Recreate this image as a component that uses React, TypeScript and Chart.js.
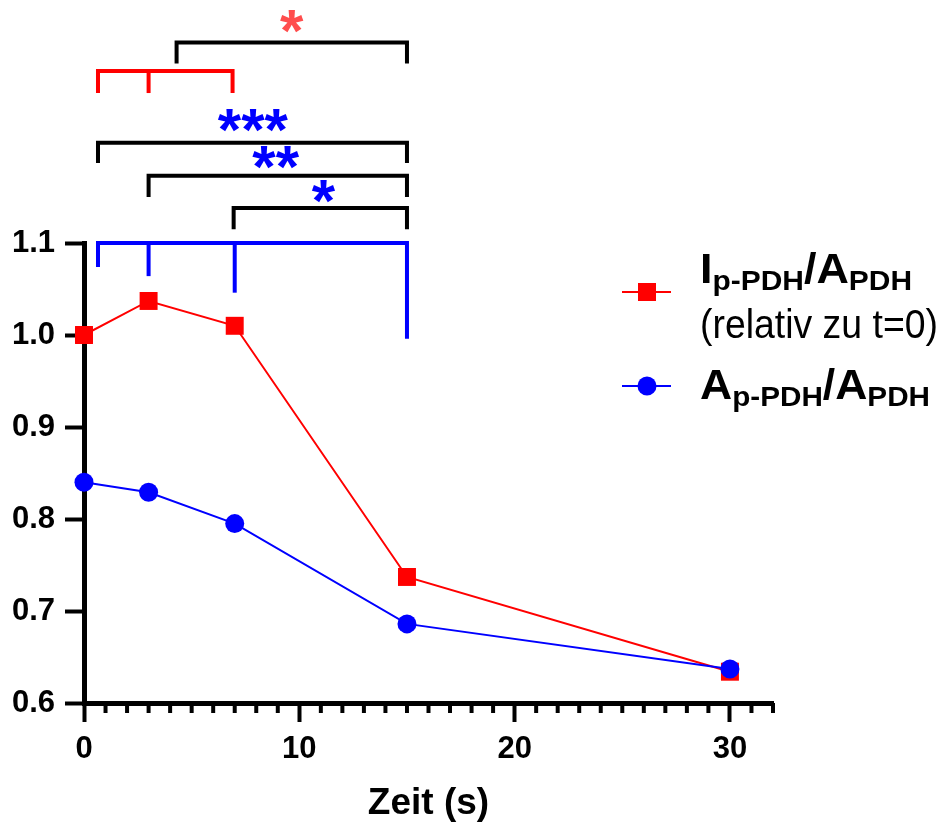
import React, { useEffect, useRef } from 'react';
import { Chart, registerables } from 'chart.js';

Chart.register(...registerables);

const FONT = "'Liberation Sans', Arial, Helvetica, sans-serif";

// data
const timePoints = [0, 3, 7, 15, 30];
const ratioIp = [1.0, 1.037, 1.010, 0.737, 0.634];
const ratioAp = [0.840, 0.829, 0.795, 0.686, 0.637];

// axes
const xMin = 0;
const xMax = 32;
const xMajorStep = 10;
const xMinorStep = 1;
const yMin = 0.6;
const yMax = 1.1;
const yStep = 0.1;

// significance brackets (data coordinates)
const bracketColors = ['#000000', '#ff0000', '#000000', '#000000', '#000000', '#0000ff'];
const bracketTops = [1.318, 1.287, 1.209, 1.173, 1.138, 1.1];
const bracketXs = [[4.3, 15], [0.65, 3, 6.9], [0.65, 15], [3, 15], [6.95, 15], [0.65, 3, 7, 15]];
const bracketDrops = [
  [1.295, 1.295],
  [1.263, 1.263, 1.263],
  [1.187, 1.187],
  [1.150, 1.150],
  [1.115, 1.115],
  [1.074, 1.064, 1.046, 0.996],
];

// significance stars
const starTexts = ['*', '***', '**', '*'];
const starColors = ['#ff4d4d', '#0000ff', '#0000ff', '#0000ff'];
const starX = [9.64, 7.84, 8.9, 11.12];
const starY = [1.341, 1.233, 1.1925, 1.1555];

// legend
const seriesColors = ['#ff0000', '#0000ff'];
const seriesLabels = ['Ip-PDH/APDH (relativ zu t=0)', 'Ap-PDH/APDH'];

const overlayPlugin = {
  id: 'overlay',
  afterDraw(chart: any) {
    const { ctx } = chart;
    const x = chart.scales.x;
    const y = chart.scales.y;
    ctx.save();

    // minor ticks on x axis
    const yb = y.getPixelForValue(yMin);
    ctx.strokeStyle = '#000';
    ctx.lineWidth = 4;
    ctx.lineCap = 'butt';
    for (let v = xMin + xMinorStep; v <= xMax; v += xMinorStep) {
      if (v % xMajorStep === 0) continue;
      const px = x.getPixelForValue(v);
      ctx.beginPath();
      ctx.moveTo(px, yb);
      ctx.lineTo(px, yb + 10);
      ctx.stroke();
    }

    // brackets
    ctx.lineWidth = 4;
    ctx.lineJoin = 'miter';
    bracketTops.forEach((top, i) => {
      const xs = bracketXs[i];
      const drops = bracketDrops[i];
      const ty = y.getPixelForValue(top);
      ctx.strokeStyle = bracketColors[i];
      ctx.beginPath();
      const x0 = x.getPixelForValue(xs[0]);
      const xn = x.getPixelForValue(xs[xs.length - 1]);
      ctx.moveTo(x0, y.getPixelForValue(drops[0]));
      ctx.lineTo(x0, ty);
      ctx.lineTo(xn, ty);
      ctx.lineTo(xn, y.getPixelForValue(drops[drops.length - 1]));
      ctx.stroke();
      for (let k = 1; k < xs.length - 1; k++) {
        const px = x.getPixelForValue(xs[k]);
        ctx.beginPath();
        ctx.moveTo(px, ty);
        ctx.lineTo(px, y.getPixelForValue(drops[k]));
        ctx.stroke();
      }
    });

    // stars
    ctx.font = `bold 60px ${FONT}`;
    ctx.textAlign = 'center';
    ctx.textBaseline = 'alphabetic';
    starTexts.forEach((t, i) => {
      const m = ctx.measureText(t);
      const cy = y.getPixelForValue(starY[i]);
      const by = cy + (m.actualBoundingBoxAscent - m.actualBoundingBoxDescent) / 2;
      ctx.fillStyle = starColors[i];
      ctx.fillText(t, x.getPixelForValue(starX[i]), by);
    });

    // legend
    const drawComposite = (parts: any[], x0: number, base: number, target: number) => {
      let total = 0;
      parts.forEach((p) => {
        ctx.font = `${p.w} ${p.s}px ${FONT}`;
        p.width = ctx.measureText(p.t).width;
        total += p.width;
      });
      const k = target / total;
      ctx.save();
      ctx.translate(x0, base);
      ctx.scale(k, 1);
      ctx.textAlign = 'left';
      ctx.textBaseline = 'alphabetic';
      ctx.fillStyle = '#000';
      let cx = 0;
      parts.forEach((p) => {
        ctx.font = `${p.w} ${p.s}px ${FONT}`;
        ctx.fillText(p.t, cx, p.dy || 0);
        cx += p.width;
      });
      ctx.restore();
    };

    const markerX0 = 622;
    const markerX1 = 671;
    const markerC = 647;
    const rowY = [292, 386];
    // red marker
    ctx.lineWidth = 2;
    ctx.strokeStyle = seriesColors[0];
    ctx.beginPath();
    ctx.moveTo(markerX0, rowY[0]);
    ctx.lineTo(markerX1, rowY[0]);
    ctx.stroke();
    ctx.fillStyle = seriesColors[0];
    ctx.fillRect(markerC - 9, rowY[0] - 9, 18, 18);
    // blue marker
    ctx.strokeStyle = seriesColors[1];
    ctx.beginPath();
    ctx.moveTo(markerX0, rowY[1]);
    ctx.lineTo(markerX1, rowY[1]);
    ctx.stroke();
    ctx.fillStyle = seriesColors[1];
    ctx.beginPath();
    ctx.arc(markerC, rowY[1], 9.5, 0, Math.PI * 2);
    ctx.fill();

    drawComposite(
      [
        { t: 'I', s: 42, w: 'bold' },
        { t: 'p-PDH', s: 28, w: 'bold', dy: 7 },
        { t: '/', s: 42, w: 'bold' },
        { t: 'A', s: 42, w: 'bold' },
        { t: 'PDH', s: 28, w: 'bold', dy: 7 },
      ],
      700,
      283,
      212
    );
    drawComposite([{ t: '(relativ zu t=0)', s: 40, w: 'normal' }], 700, 338, 238);
    drawComposite(
      [
        { t: 'A', s: 42, w: 'bold' },
        { t: 'p-PDH', s: 28, w: 'bold', dy: 7 },
        { t: '/', s: 42, w: 'bold' },
        { t: 'A', s: 42, w: 'bold' },
        { t: 'PDH', s: 28, w: 'bold', dy: 7 },
      ],
      700,
      399,
      230
    );

    ctx.restore();
  },
};

export default function App() {
  const ref = useRef<HTMLCanvasElement | null>(null);

  useEffect(() => {
    document.body.style.margin = '0';
    if (!ref.current) return;
    const tickFont = { family: FONT, size: 31, weight: 'bold' as const };
    const chart = new Chart(ref.current, {
      type: 'line',
      data: {
        datasets: [
          {
            label: seriesLabels[0],
            data: timePoints.map((t, i) => ({ x: t, y: ratioIp[i] })),
            borderColor: seriesColors[0],
            backgroundColor: seriesColors[0],
            borderWidth: 2,
            pointStyle: 'rect',
            pointRadius: 12.7,
            pointBorderWidth: 0,
            clip: false as any,
            order: 1,
          },
          {
            label: seriesLabels[1],
            data: timePoints.map((t, i) => ({ x: t, y: ratioAp[i] })),
            borderColor: seriesColors[1],
            backgroundColor: seriesColors[1],
            borderWidth: 2,
            pointStyle: 'circle',
            pointRadius: 9.5,
            pointBorderWidth: 0,
            clip: false as any,
            order: 0,
          },
        ],
      },
      options: {
        animation: false,
        responsive: false,
        layout: { padding: { top: 243, right: 171, left: 0, bottom: 0 } },
        plugins: { legend: { display: false }, tooltip: { enabled: false } },
        scales: {
          x: {
            type: 'linear',
            min: xMin,
            max: xMax,
            afterFit: (s: any) => {
              s.height = 123;
            },
            ticks: {
              stepSize: xMajorStep,
              includeBounds: false,
              font: tickFont,
              color: '#000',
              padding: 9,
              maxRotation: 0,
              callback: (v: any) => String(v),
            },
            grid: {
              display: true,
              drawOnChartArea: false,
              drawTicks: true,
              tickLength: 19,
              tickWidth: 4,
              tickColor: '#000',
            },
            border: { display: true, color: '#000', width: 5 },
            title: {
              display: true,
              text: 'Zeit (s)',
              color: '#000',
              font: { family: FONT, size: 37, weight: 'bold' },
              padding: { top: 0, bottom: 0 },
            },
          },
          y: {
            min: yMin,
            max: yMax,
            afterFit: (s: any) => {
              s.width = 84;
            },
            ticks: {
              stepSize: yStep,
              font: tickFont,
              color: '#000',
              padding: 10,
              callback: (v: any) => Number(v).toFixed(1),
            },
            grid: {
              display: true,
              drawOnChartArea: false,
              drawTicks: true,
              tickLength: 19,
              tickWidth: 4,
              tickColor: '#000',
            },
            border: { display: true, color: '#000', width: 5 },
          },
        },
      },
      plugins: [overlayPlugin],
    });
    return () => chart.destroy();
  }, []);

  return (
    <div style={{ width: 944, height: 826 }}>
      <canvas ref={ref} width={944} height={826} style={{ display: 'block' }} />
    </div>
  );
}
